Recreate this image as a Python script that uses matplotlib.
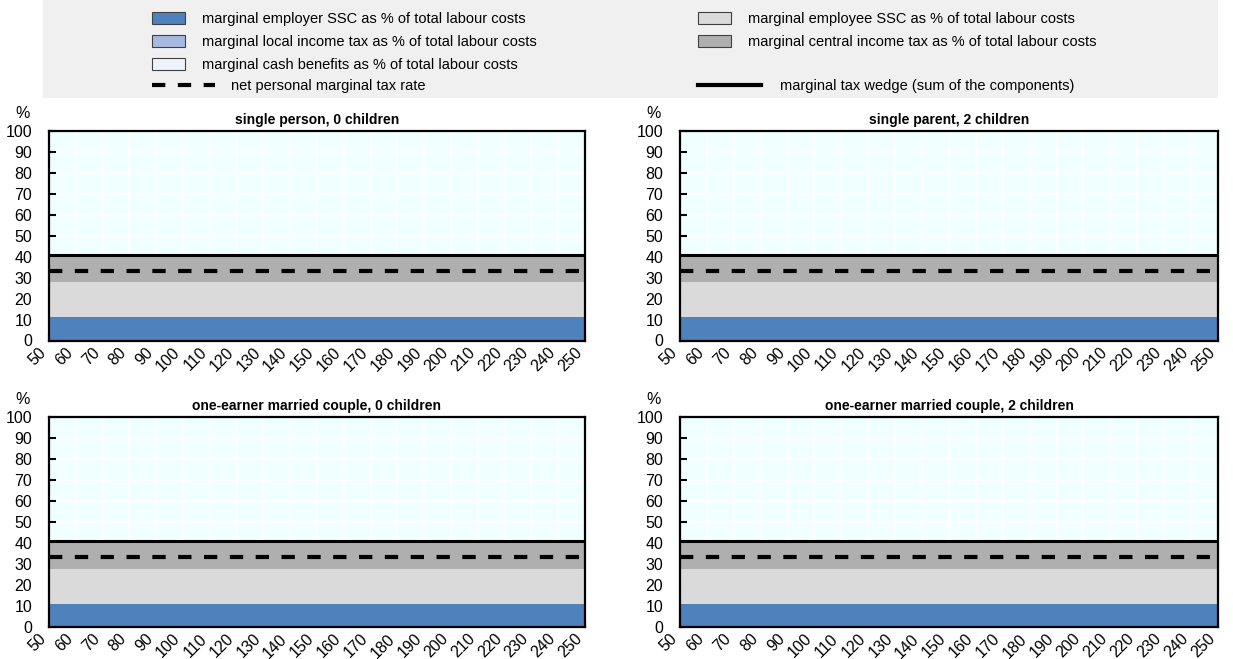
# marginal tax wedge components by household type, 4 panels

import matplotlib.pyplot as plt
import numpy as np
from matplotlib.patches import Patch, Rectangle
from matplotlib.lines import Line2D

plt.rcParams['font.family'] = ['Liberation Sans', 'DejaVu Sans']

# gross wage, % of average wage
wage = [50, 60, 70, 80, 90, 100, 110, 120, 130, 140, 150,
        160, 170, 180, 190, 200, 210, 220, 230, 240, 250]

# components, % of total labour costs (same for every household type)
employer_ssc = [11.0, 11.0, 11.0, 11.0, 11.0, 11.0, 11.0, 11.0, 11.0, 11.0, 11.0,
                11.0, 11.0, 11.0, 11.0, 11.0, 11.0, 11.0, 11.0, 11.0, 11.0]
employee_ssc = [16.8, 16.8, 16.8, 16.8, 16.8, 16.8, 16.8, 16.8, 16.8, 16.8, 16.8,
                16.8, 16.8, 16.8, 16.8, 16.8, 16.8, 16.8, 16.8, 16.8, 16.8]
central_tax = [13.2, 13.2, 13.2, 13.2, 13.2, 13.2, 13.2, 13.2, 13.2, 13.2, 13.2,
               13.2, 13.2, 13.2, 13.2, 13.2, 13.2, 13.2, 13.2, 13.2, 13.2]
local_tax = [0, 0, 0, 0, 0, 0, 0, 0, 0, 0, 0,
             0, 0, 0, 0, 0, 0, 0, 0, 0, 0]
cash_benefits = [0, 0, 0, 0, 0, 0, 0, 0, 0, 0, 0,
                 0, 0, 0, 0, 0, 0, 0, 0, 0, 0]
net_personal = [33.3, 33.3, 33.3, 33.3, 33.3, 33.3, 33.3, 33.3, 33.3, 33.3, 33.3,
                33.3, 33.3, 33.3, 33.3, 33.3, 33.3, 33.3, 33.3, 33.3, 33.3]

titles = ['single person, 0 children', 'single parent, 2 children',
          'one-earner married couple, 0 children', 'one-earner married couple, 2 children']

c_employer = '#4f81bd'
c_local = '#a7b9e1'
c_cash = '#eef2fa'
c_employee = '#dadada'
c_central = '#afafaf'

W, H = 1233, 659
fig = plt.figure(figsize=(W / 100, H / 100), dpi=100)

# grey legend band
fig.patches.append(Rectangle((43 / W, 1 - 98 / H), (1218 - 43) / W, 98 / H,
                             transform=fig.transFigure, facecolor='#f0f0f0',
                             edgecolor='none', zorder=0))

boxes = [(49, 585, 131, 340.5), (680, 1218, 131, 340.5),
         (49, 585, 417, 627), (680, 1218, 417, 627)]

x = np.array(wage)
for (x0, x1, y0, y1), title in zip(boxes, titles):
    ax = fig.add_axes([x0 / W, 1 - y1 / H, (x1 - x0) / W, (y1 - y0) / H])
    ax.set_facecolor('#f0ffff')
    ax.grid(True, color='white', lw=1.5)
    ax.set_axisbelow(True)

    b1 = np.array(employer_ssc)
    b2 = b1 + np.array(employee_ssc)
    b3 = b2 + np.array(central_tax)
    b4 = b3 + np.array(local_tax)
    ax.fill_between(x, 0, b1, color=c_employer, lw=0, zorder=2)
    ax.fill_between(x, b1, b2, color=c_employee, lw=0, zorder=2)
    ax.fill_between(x, b2, b3, color=c_central, lw=0, zorder=2)
    ax.fill_between(x, b3, b4, color=c_local, lw=0, zorder=2)
    ax.fill_between(x, 0, cash_benefits, color=c_cash, lw=0, zorder=2)
    wedge = b4 + np.array(cash_benefits)
    ax.plot(x, wedge, color='black', lw=2.2, zorder=4)
    ax.plot(x, net_personal, color='black', lw=3, dashes=(3.2, 3.0), zorder=4)

    ax.set_xlim(50, 250)
    ax.set_ylim(0, 100)
    ax.set_xticks(wage)
    ax.set_yticks(range(0, 101, 10))
    ax.tick_params(axis='both', direction='in', length=5, width=1.5, labelsize=11.5)
    ax.tick_params(axis='y', pad=12)
    ax.tick_params(axis='x', pad=3)
    for lab in ax.get_xticklabels():
        lab.set_rotation(45)
        lab.set_ha('right')
    for s in ax.spines.values():
        s.set_linewidth(1.6)
        s.set_zorder(5)
    ax.set_title(title, fontsize=10, fontweight='bold', pad=5)
    ax.text(-0.05, 1.05, '%', transform=ax.transAxes, ha='center', va='bottom', fontsize=11.5)

edge = dict(edgecolor='#404040', lw=0.8)
kw = dict(loc='upper left', frameon=False, fontsize=10.5, handleheight=0.85,
          labelspacing=0.62, borderpad=0, borderaxespad=0)

fig.legend([Patch(facecolor=c_employer, **edge), Patch(facecolor=c_local, **edge),
            Patch(facecolor=c_cash, **edge)],
           ['marginal employer SSC as % of total labour costs',
            'marginal local income tax as % of total labour costs',
            'marginal cash benefits as % of total labour costs'],
           bbox_to_anchor=(152 / W, 1 - 12 / H), handlelength=2.26, handletextpad=1.16, **kw)
fig.legend([Patch(facecolor=c_employee, **edge), Patch(facecolor=c_central, **edge)],
           ['marginal employee SSC as % of total labour costs',
            'marginal central income tax as % of total labour costs'],
           bbox_to_anchor=(698 / W, 1 - 12 / H), handlelength=2.26, handletextpad=1.16, **kw)
fig.legend([Line2D([], [], color='black', lw=3, dashes=(3.2, 3.0))],
           ['net personal marginal tax rate'],
           bbox_to_anchor=(152 / W, 1 - 79 / H), handlelength=4.3, handletextpad=1.15, **kw)
fig.legend([Line2D([], [], color='black', lw=3)],
           ['marginal tax wedge (sum of the components)'],
           bbox_to_anchor=(698 / W, 1 - 79 / H), handlelength=4.3, handletextpad=1.3, **kw)

fig.savefig('out.png', dpi=100)
